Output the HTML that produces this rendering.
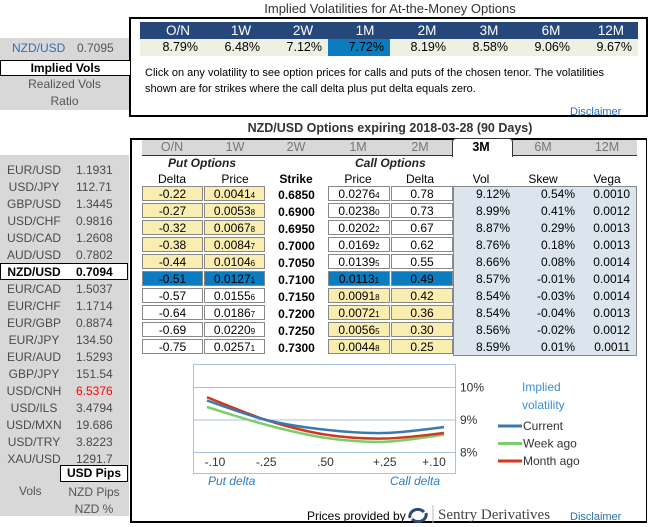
<!DOCTYPE html>
<html><head><meta charset="utf-8">
<style>
body{margin:0;width:650px;height:527px;background:#fff;font-family:"Liberation Sans",Arial,sans-serif;font-size:12px;color:#000;position:relative;overflow:hidden}
.a{position:absolute;white-space:nowrap}
.c{text-align:center}
.g{color:#555}
.cell{position:absolute;height:15px;border:1px solid #888;box-sizing:border-box;line-height:14px;text-align:center;font-size:12px}
.y{background:#f9eeb0}
.w{background:#fff}
.bsel{background:#0a7cbf}
.sub{font-size:8px}
</style></head><body>
<div class="a c" style="left:130px;width:520px;top:1px;font-size:13px;color:#333;">Implied Volatilities for At-the-Money Options</div>
<div class="a" style="left:129px;top:17px;width:519px;height:100px;border:2px solid #000;box-sizing:border-box"></div>
<div class="a" style="left:140px;top:22px;width:498px;height:17px;background:#26477a"></div>
<div class="a" style="left:140px;top:39px;width:498px;height:17px;background:#eef0e2"></div>
<div class="a" style="left:328px;top:39px;width:62px;height:17px;background:#0a7cbf"></div>
<div class="a" style="left:145px;top:65px;font-size:11px;line-height:16px">Click on any volatility to see option prices for calls and puts of the chosen tenor. The volatilities<br>shown are for strikes where the call delta plus put delta equals zero.</div>
<div class="a" style="left:570px;top:106px;font-size:11px;color:#2a6fb0">Disclaimer</div>

<div class="a" style="left:0;top:38px;width:129px;height:72px;background:#d8d8d8"></div>
<div class="a" style="left:12px;top:41px;color:#2f6fae">NZD/USD</div>
<div class="a g" style="left:77px;top:41px">0.7095</div>
<div class="a c" style="left:0;top:60px;width:130px;height:16px;background:#fff;border:1px solid #000;border-right:none;box-sizing:border-box;font-weight:bold;line-height:14px">Implied Vols</div>
<div class="a c g" style="left:0;top:77px;width:129px">Realized Vols</div>
<div class="a c g" style="left:0;top:94px;width:129px">Ratio</div>

<div class="a c" style="left:130px;width:520px;top:121px;font-size:12.5px;font-weight:bold;color:#333">NZD/USD Options expiring 2018-03-28 (90 Days)</div>
<div class="a" style="left:130px;top:138px;width:517px;height:385px;border:2px solid #000;border-right-width:1px;box-sizing:border-box"></div>
<div class="a" style="left:142px;top:140px;width:495px;height:15px;background:#d8d8d8;border-bottom:1px solid #333"></div>
<div class="a" style="left:452px;top:138px;width:59px;height:18px;background:#fff;border:1px solid #333;border-bottom:none;border-radius:4px 4px 0 0"></div>
<div class="a" style="left:168px;top:156px;font-style:italic;font-weight:bold;color:#222">Put Options</div>
<div class="a" style="left:355px;top:156px;font-style:italic;font-weight:bold;color:#222">Call Options</div>
<div class="a" style="left:453px;top:186px;width:184px;height:170px;background:#dce4ee;border:1px solid #888;box-sizing:border-box"></div>

<div class="a" style="left:0;top:155px;width:129px;height:361px;background:#d8d8d8"></div>
<div class="a c" style="left:60px;top:465px;width:68px;height:17px;background:#fff;border:1px solid #000;box-sizing:border-box;font-weight:bold;line-height:15px">USD Pips</div>
<div class="a g" style="left:19px;top:484px">Vols</div>
<div class="a c g" style="left:60px;top:485px;width:68px">NZD Pips</div>
<div class="a c g" style="left:60px;top:502px;width:68px">NZD %</div>

<svg class="a" style="left:0;top:0" width="650" height="527" id="chart">
<rect x="193.5" y="364.5" width="262" height="109" fill="#fff" stroke="#a9c3da"/>
<g id="grid"></g><g id="lines"></g>
<text x="522" y="391" fill="#3d8fd0" font-size="12" font-family="Liberation Sans">Implied</text>
<text x="522" y="409" fill="#3d8fd0" font-size="12" font-family="Liberation Sans">volatility</text>
<g id="legend"></g>
<text x="208" y="485" fill="#2f7ec4" font-style="italic" font-size="12" font-family="Liberation Sans">Put delta</text>
<text x="390" y="485" fill="#2f7ec4" font-style="italic" font-size="12" font-family="Liberation Sans">Call delta</text>
<g><path d="M410 518a8 7 0 0 1 14-6" stroke="#2b4a6e" stroke-width="3" fill="none"/><path d="M426 513a8 7 0 0 1 -14 6" stroke="#2b4a6e" stroke-width="3" fill="none"/><line x1="433" y1="505" x2="433" y2="523" stroke="#bbb"/></g>
</svg>
<div class="a" style="left:307px;top:509px;font-size:12px">Prices provided by</div>
<div class="a" style="left:438px;top:507px;font-family:'Liberation Serif',serif;font-size:15px;color:#444">Sentry Derivatives</div>
<div class="a" style="left:570px;top:511px;font-size:11px;color:#2a6fb0">Disclaimer</div>

<script>
const tenors=["O/N","1W","2W","1M","2M","3M","6M","12M"];
const atmVols=["8.79%","6.48%","7.12%","7.72%","8.19%","8.58%","9.06%","9.67%"];
const pairs=["EUR/USD","USD/JPY","GBP/USD","USD/CHF","USD/CAD","AUD/USD","NZD/USD","EUR/CAD","EUR/CHF","EUR/GBP","EUR/JPY","EUR/AUD","GBP/JPY","USD/CNH","USD/ILS","USD/MXN","USD/TRY","XAU/USD"];
const rates=["1.1931","112.71","1.3445","0.9816","1.2608","0.7802","0.7094","1.5037","1.1714","0.8874","134.50","1.5293","151.54","6.5376","3.4794","19.686","3.8223","1291.7"];
const putDelta=["-0.22","-0.27","-0.32","-0.38","-0.44","-0.51","-0.57","-0.64","-0.69","-0.75"];
const putPrice=["0.0041|4","0.0053|8","0.0067|8","0.0084|7","0.0104|6","0.0127|1","0.0155|6","0.0186|7","0.0220|9","0.0257|1"];
const strikes=["0.6850","0.6900","0.6950","0.7000","0.7050","0.7100","0.7150","0.7200","0.7250","0.7300"];
const callPrice=["0.0276|4","0.0238|0","0.0202|2","0.0169|2","0.0139|5","0.0113|1","0.0091|8","0.0072|1","0.0056|5","0.0044|8"];
const callDelta=["0.78","0.73","0.67","0.62","0.55","0.49","0.42","0.36","0.30","0.25"];
const vols=["9.12%","8.99%","8.87%","8.76%","8.66%","8.57%","8.54%","8.54%","8.56%","8.59%"];
const skews=["0.54%","0.41%","0.29%","0.18%","0.08%","-0.01%","-0.03%","-0.04%","-0.02%","0.01%"];
const vegas=["0.0010","0.0012","0.0013","0.0013","0.0014","0.0014","0.0014","0.0013","0.0012","0.0011"];
const deltaTicks=["-.10","-.25",".50","+.25","+.10"];
const volTicks=[10,9,8];
const currentVol=[9.6,9.0,8.7,8.6,8.78];
const weekAgoVol=[9.4,8.85,8.45,8.33,8.55];
const monthAgoVol=[9.7,9.0,8.55,8.43,8.6];

function div(parent,name,inter,css,html){const d=document.createElement('div');d.className='a';d.style.cssText=css;d.innerHTML=html;


parent.appendChild(d);return d;}
const body=document.body;
tenors.forEach((t,i)=>{
  const x=138+i*62;
  div(body,'atm-tenor-'+i,'false',`left:${x}px;width:62px;top:23px;text-align:right;padding-right:10px;box-sizing:border-box;color:#fff;font-size:13.5px`,'<span style="display:inline-block;min-width:22px;text-align:center">'+t+'</span>');
  div(body,'atm-vol-'+i,'true',`left:${x}px;width:62px;top:40px;text-align:right;padding-right:2px;box-sizing:border-box;font-size:12.5px`,atmVols[i]);
});
const tabX=[172,235,296,358,420,481,543,607];
tenors.forEach((t,i)=>{
  div(body,'tenor-tab-'+i,'true',`left:${tabX[i]-30}px;width:60px;top:140px;text-align:center;font-size:12.5px;${i==5?'font-weight:bold;color:#000':'color:#777'}`,t);
});
const hdrs=["Delta","Price","Strike","Price","Delta","Vol","Skew","Vega"];
hdrs.forEach((h,i)=>div(body,'col-header-'+i,'false',`left:${tabX[i]-30}px;width:60px;top:172px;text-align:center;${i==2?'font-weight:bold':''}`,h));
function px(s){const p=s.split('|');return p[0]+'<span class="sub">'+p[1]+'</span>';}
for(let r=0;r<10;r++){
  const y=186+r*17;
  const putCls=r<5?'y':(r==5?'bsel':'w');
  const callCls=r<5?'w':(r==5?'bsel':'y');
  let c=div(body,'put-delta-'+r,'true',`top:${y}px;left:142px;width:61px`,putDelta[r]);c.classList.add('cell',putCls);
  c=div(body,'put-price-'+r,'true',`top:${y}px;left:204px;width:61px`,px(putPrice[r]));c.classList.add('cell',putCls);
  div(body,'strike-'+r,'false',`top:${y+2}px;left:266px;width:61px;text-align:center;font-weight:bold`,strikes[r]);
  c=div(body,'call-price-'+r,'true',`top:${y}px;left:328px;width:62px`,px(callPrice[r]));c.classList.add('cell',callCls);
  c=div(body,'call-delta-'+r,'true',`top:${y}px;left:391px;width:62px`,callDelta[r]);c.classList.add('cell',callCls);
  div(body,'vol-'+r,'false',`top:${y+1}px;left:453px;width:57px;text-align:right`,vols[r]);
  div(body,'skew-'+r,'false',`top:${y+1}px;left:510px;width:65px;text-align:right`,skews[r]);
  div(body,'vega-'+r,'false',`top:${y+1}px;left:580px;width:50px;text-align:right`,vegas[r]);
}
pairs.forEach((p,i)=>{
  const y=160+i*17;
  if(i==6){div(body,'selected-pair-box','true',`left:0;top:${y+1}px;width:128px;height:17px;background:#fff;border:1px solid #000;box-sizing:border-box`,'');}
  const col=i==6?'#000;font-weight:bold':'#4a4a4a';
  div(body,'pair-'+i,'true',`left:0;width:68px;top:${y+3}px;text-align:center;color:${col}`,p);
  div(body,'rate-'+i,'false',`left:76px;top:${y+3}px;color:${i==13?'#f00':col}`,rates[i]);
});
const NS='http://www.w3.org/2000/svg';
const xs=i=>207+i*59.25;
const ys=v=>420-(v-9)*32.5;
function el(tag,attrs,parent){const e=document.createElementNS(NS,tag);for(const k in attrs)e.setAttribute(k,attrs[k]);parent.appendChild(e);return e;}
const grid=document.getElementById('grid');
volTicks.forEach(v=>{
  const l=el('line',{x1:194,x2:455,y1:ys(v),y2:ys(v),stroke:'#a9c3da'},grid);
  
  
  const t=el('text',{x:460,y:ys(v)+4,'font-size':12,'font-family':'Liberation Sans',fill:'#333'},grid);t.textContent=v+'%';
  
  
});
deltaTicks.forEach((d,i)=>{
  const t=el('text',{x:xs(i)+(i==0?8:i==4?-10:0),y:466,'font-size':12,'font-family':'Liberation Sans','text-anchor':'middle',fill:'#333'},grid);t.textContent=d;
  
  
});
function path(vals){const p=vals.map((v,i)=>[xs(i),ys(v)]);let d='M'+p[0][0]+' '+p[0][1];
for(let i=0;i<p.length-1;i++){const p0=p[i-1]||p[i],p1=p[i],p2=p[i+1],p3=p[i+2]||p2;
d+=` C${p1[0]+(p2[0]-p0[0])/6} ${p1[1]+(p2[1]-p0[1])/6} ${p2[0]-(p3[0]-p1[0])/6} ${p2[1]-(p3[1]-p1[1])/6} ${p2[0]} ${p2[1]}`;}return d;}
const series=[["current",currentVol,'#3b78b0',"Current"],["week-ago",weekAgoVol,'#7ccd6e',"Week ago"],["month-ago",monthAgoVol,'#d0391c',"Month ago"]];
const lines=document.getElementById('lines'),leg=document.getElementById('legend');
[1,2,0].forEach(k=>{const s=series[k];
  const p=el('path',{d:path(s[1]),stroke:s[2],'stroke-width':2.5,fill:'none'},lines);
  
  
});
series.forEach((s,i)=>{const y=426+i*17.5;
  const l=el('line',{x1:498,x2:522,y1:y,y2:y,stroke:s[2],'stroke-width':3},leg);
  
  
  const t=el('text',{x:523,y:y+4,'font-size':12,'font-family':'Liberation Sans',fill:'#333'},leg);t.textContent=s[3];
  
  
});
</script>
</body></html>
